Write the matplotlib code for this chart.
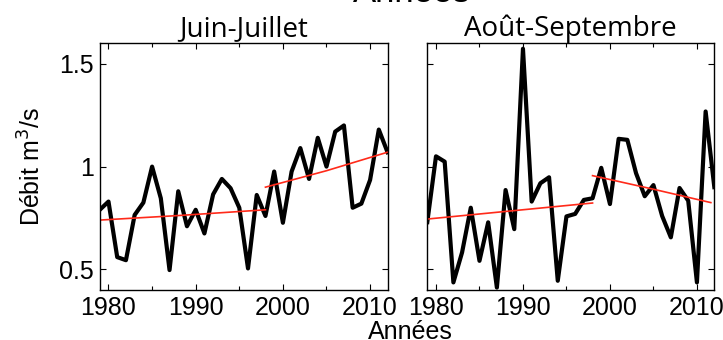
import matplotlib.pyplot as plt
from matplotlib.ticker import MultipleLocator

plt.rcParams['font.family'] = ['Liberation Sans', 'DejaVu Sans']

# ------------- data -------------
years = list(range(1979, 2013))

juin_juillet = [0.79, 0.83, 0.56, 0.545, 0.765, 0.825, 1.0, 0.846, 0.497, 0.88,
                0.71, 0.79, 0.675, 0.865, 0.94, 0.895, 0.80, 0.505, 0.862, 0.76,
                0.976, 0.727, 0.976, 1.09, 0.94, 1.14, 1.0, 1.17, 1.20, 0.80,
                0.82, 0.935, 1.18, 1.07]

aout_sept = [0.73, 1.05, 1.024, 0.437, 0.583, 0.80, 0.542, 0.729, 0.412, 0.886,
             0.696, 1.573, 0.83, 0.919, 0.948, 0.445, 0.758, 0.77, 0.838, 0.846,
             0.994, 0.818, 1.135, 1.13, 0.968, 0.856, 0.91, 0.76, 0.656, 0.896,
             0.834, 0.437, 1.268, 0.90]

# trend lines (two periods per panel)
jj_trend1_x = [1979, 1988, 1998]
jj_trend1_y = [0.74, 0.762, 0.79]
jj_trend2_x = [1998, 2005, 2012]
jj_trend2_y = [0.90, 0.98, 1.07]

as_trend1_x = [1979, 1988, 1998]
as_trend1_y = [0.745, 0.782, 0.823]
as_trend2_x = [1998, 2005, 2011.6]
as_trend2_y = [0.956, 0.89, 0.825]

panels = [
    ("Juin-Juillet", juin_juillet, (jj_trend1_x, jj_trend1_y), (jj_trend2_x, jj_trend2_y)),
    ("Août-Septembre", aout_sept, (as_trend1_x, as_trend1_y), (as_trend2_x, as_trend2_y)),
]

fig = plt.figure(figsize=(7.23, 3.4), dpi=100)
ax1 = fig.add_axes([0.138, 0.147, 0.398, 0.726])
ax2 = fig.add_axes([0.591, 0.147, 0.397, 0.726])

for ax, (title, values, t1, t2) in zip([ax1, ax2], panels):
    ax.plot(years, values, color='black', lw=3)
    ax.plot(t1[0], t1[1], color='#ff2a1a', lw=1.2)
    ax.plot(t2[0], t2[1], color='#ff2a1a', lw=1.2)

    ax.set_xlim(1979, 2012)
    ax.set_ylim(0.4, 1.6)
    ax.xaxis.set_major_locator(MultipleLocator(10))
    ax.xaxis.set_minor_locator(MultipleLocator(5))
    ax.set_yticks([0.5, 1, 1.5])
    ax.set_yticklabels(['0.5', '1', '1.5'])
    ax.tick_params(axis='both', which='both', direction='in', top=True, right=True,
                   labelsize=18, pad=4)
    ax.tick_params(which='major', length=4, width=0.8)
    ax.tick_params(which='minor', length=3, width=0.8)
    for s in ax.spines.values():
        s.set_linewidth(1.0)
    ax.set_title(title, fontsize=20, family=['Open Sans', 'DejaVu Sans'], pad=4)

ax2.set_yticklabels([])

ax1.set_ylabel("Débit m$^3$/s", fontsize=18, labelpad=10)
fig.text(0.567, 0.004, "Années", fontsize=18, ha='center', va='baseline')
fig.text(0.57, 0.975, "Années", fontsize=25, ha='center', va='bottom')

plt.savefig("out.png", dpi=100)
